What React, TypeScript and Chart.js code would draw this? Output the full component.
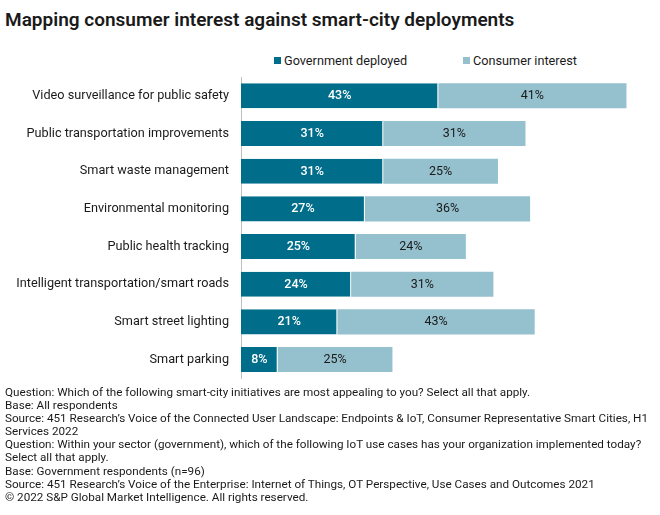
import React, { useEffect, useRef } from "react";
import { Chart, registerables } from "chart.js";

Chart.register(...registerables);

const categories = [
  "Video surveillance for public safety",
  "Public transportation improvements",
  "Smart waste management",
  "Environmental monitoring",
  "Public health tracking",
  "Intelligent transportation/smart roads",
  "Smart street lighting",
  "Smart parking",
];
const governmentDeployed = [43, 31, 31, 27, 25, 24, 21, 8];
const consumerInterest = [41, 31, 25, 36, 24, 31, 43, 25];
const seriesNames = ["Government deployed", "Consumer interest"];

const titleText = "Mapping consumer interest against smart-city deployments";
const footnoteLines = [
  "Question: Which of the following smart-city initiatives are most appealing to you? Select all that apply.",
  "Base: All respondents",
  "Source: 451 Research\u2019s Voice of the Connected User Landscape: Endpoints & IoT, Consumer Representative Smart Cities, H1",
  "Services 2022",
  "Question: Within your sector (government), which of the following IoT use cases has your organization implemented today?",
  "Select all that apply.",
  "Base: Government respondents (n=96)",
  "Source: 451 Research\u2019s Voice of the Enterprise: Internet of Things, OT Perspective, Use Cases and Outcomes 2021",
  "\u00a9 2022 S&P Global Market Intelligence. All rights reserved.",
];

const GOV = "#006E8A";
const CON = "#95C1CE";
const FONT = "Roboto, 'Liberation Sans', Arial, sans-serif";

const labelPlugin = {
  id: "barLabels",
  afterDatasetsDraw(chart: any) {
    const ctx = chart.ctx;
    ctx.save();
    ctx.textAlign = "center";
    ctx.textBaseline = "middle";
    chart.data.datasets.forEach((ds: any, di: number) => {
      const meta = chart.getDatasetMeta(di);
      meta.data.forEach((el: any, i: number) => {
        const v = ds.data[i];
        const cx = (el.x + el.base) / 2;
        ctx.fillStyle = di === 0 ? "#ffffff" : "#1a1a1a";
        ctx.font = (di === 0 ? "500 " : "400 ") + "12.5px " + FONT;
        ctx.fillText(v + "%", cx, el.y + 0.5);
      });
    });
    ctx.restore();
  },
};

export default function App() {
  const ref = useRef<HTMLCanvasElement>(null);
  useEffect(() => {
    if (!ref.current) return;
    const chart = new Chart(ref.current, {
      type: "bar",
      data: {
        labels: categories,
        datasets: [
          {
            label: seriesNames[0],
            data: governmentDeployed,
            backgroundColor: GOV,
            borderColor: "#ffffff",
            borderWidth: { right: 1, top: 0, bottom: 0, left: 0 },
            borderSkipped: false,
            barPercentage: 0.665,
            categoryPercentage: 1,
          },
          {
            label: seriesNames[1],
            data: consumerInterest,
            backgroundColor: CON,
            borderWidth: 0,
            barPercentage: 0.665,
            categoryPercentage: 1,
          },
        ],
      },
      options: {
        indexAxis: "y",
        animation: false,
        responsive: false,
        maintainAspectRatio: false,
        layout: { padding: { top: 37, right: 6, bottom: 4, left: 0 } },
        plugins: {
          legend: { display: false },
          tooltip: { enabled: false },
          title: { display: false },
        },
        scales: {
          x: {
            stacked: true,
            min: 0,
            max: 90,
            display: false,
          },
          y: {
            stacked: true,
            grid: { display: false, drawTicks: false },
            border: { display: true, color: "#bfbfbf", width: 1 },
            ticks: {
              color: "#1a1a1a",
              padding: 12,
              font: { family: FONT, size: 12.7 },
            },
            afterFit(scale: any) {
              scale.width = 241;
            },
          },
        },
      },
      plugins: [labelPlugin],
    });
    return () => chart.destroy();
  }, []);

  const legendItem = (left: number, color: string, text: string) => (
    <div
      style={{
        position: "absolute",
        left,
        top: 52,
        height: 16,
        display: "flex",
        alignItems: "center",
        whiteSpace: "nowrap",
        fontFamily: FONT,
        fontSize: 12.7,
        color: "#1a1a1a",
      }}
    >
      <span style={{ display: "inline-block", width: 7, height: 7, background: color, marginRight: 3 }} />
      <span>{text}</span>
    </div>
  );

  return (
    <div style={{ position: "absolute", left: 0, top: 0, width: 660, height: 515, background: "#fff" }}>
      <div
        style={{
          position: "absolute",
          left: 5,
          top: 9,
          fontFamily: FONT,
          fontSize: 19,
          fontWeight: 600,
          lineHeight: "22px",
          color: "#1a1a1a",
          whiteSpace: "nowrap",
        }}
      >
        {titleText}
      </div>
      {legendItem(274, GOV, seriesNames[0])}
      {legendItem(463, CON, seriesNames[1])}
      <canvas
        ref={ref}
        width={660}
        height={358}
        style={{ position: "absolute", left: 0, top: 40, width: 660, height: 358 }}
      />
      <div
        style={{
          position: "absolute",
          left: 5,
          top: 386,
          fontFamily: FONT,
          fontSize: 11.7,
          lineHeight: "13.1px",
          color: "#1a1a1a",
        }}
      >
        {footnoteLines.map((l, i) => (
          <div key={i} style={{ whiteSpace: "nowrap" }}>
            {l}
          </div>
        ))}
      </div>
    </div>
  );
}
